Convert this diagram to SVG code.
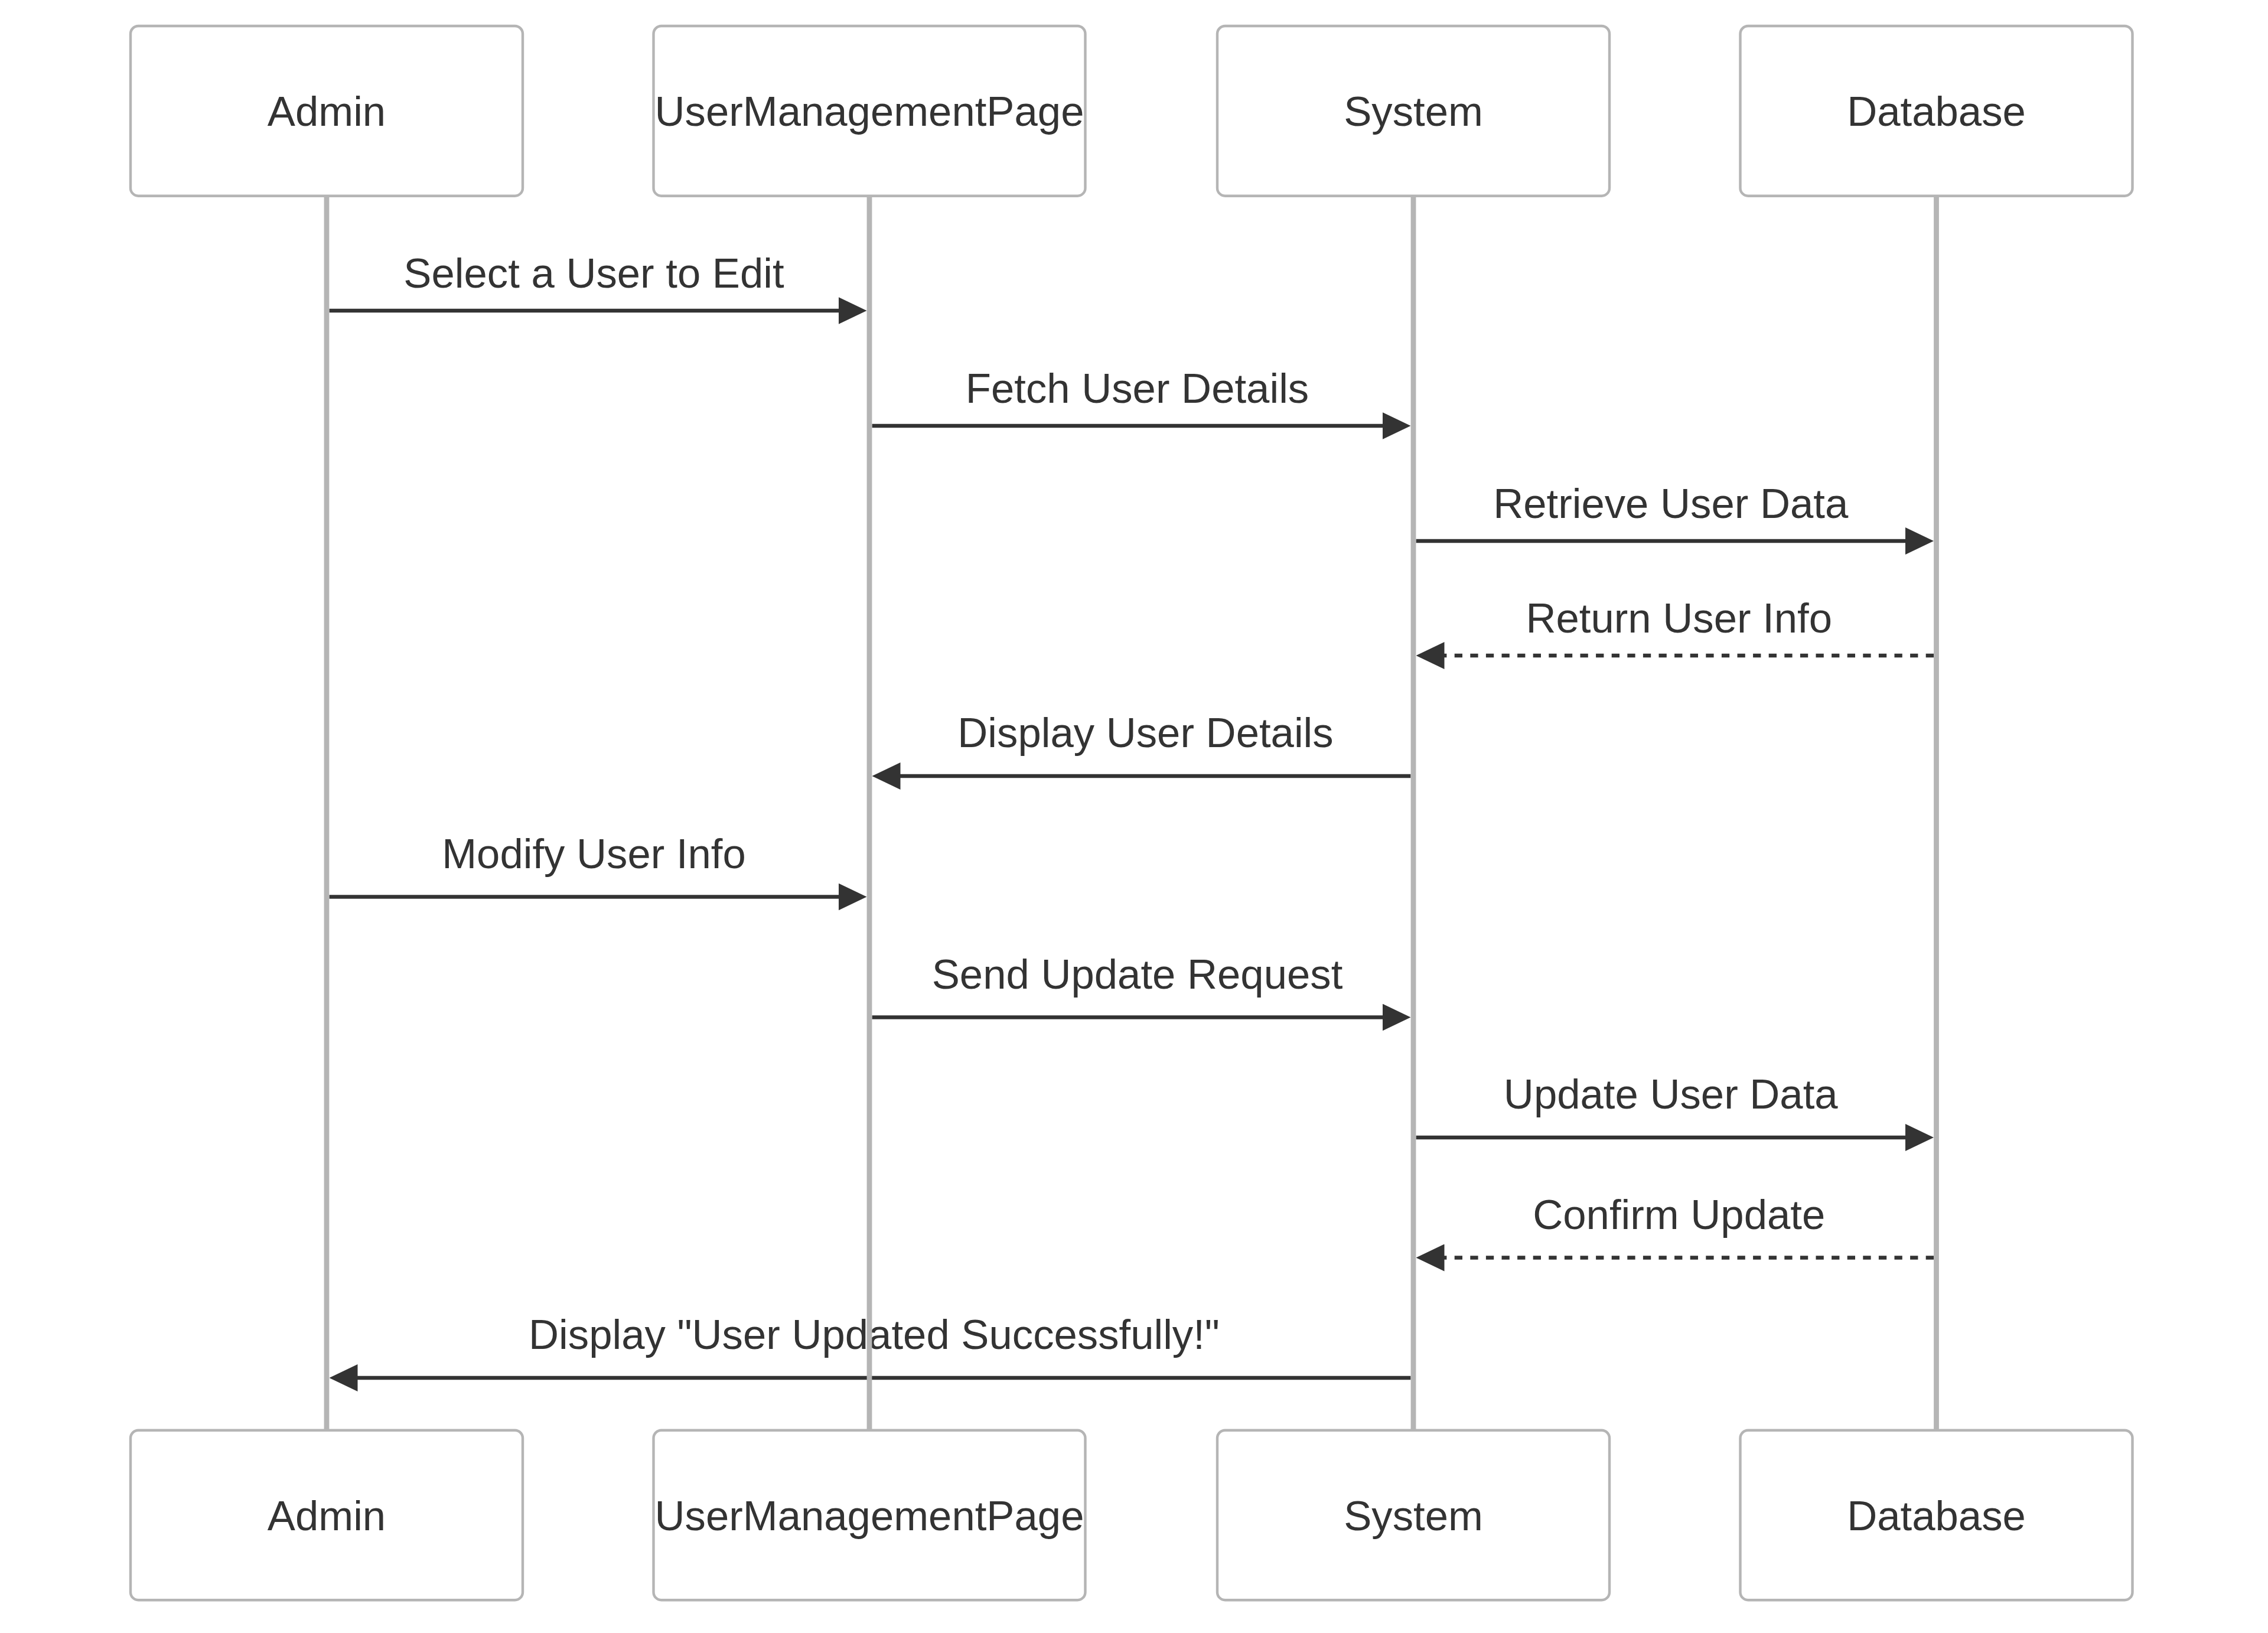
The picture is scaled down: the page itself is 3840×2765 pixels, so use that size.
<svg xmlns="http://www.w3.org/2000/svg" width="3840" height="2765" viewBox="0 0 3840 2765">
<style>
.box{fill:#ffffff;stroke:#b5b5b5;stroke-width:4.4}
.life{stroke:#b5b5b5;stroke-width:8.8}
.atxt{font-family:"Liberation Sans",Arial,sans-serif;font-size:70.7px;fill:#333333;text-anchor:middle}
.mtxt{font-family:"Liberation Sans",Arial,sans-serif;font-size:70.7px;fill:#333333;text-anchor:middle}
.msg{stroke:#333333;stroke-width:6.6;fill:none;marker-end:url(#arrow)}
.dash{stroke-dasharray:13.3 13.3}
</style>
<defs>
<marker id="arrow" markerUnits="userSpaceOnUse" markerWidth="48" markerHeight="46" viewBox="0 0 48 46" refX="38" refY="23" orient="auto">
<path d="M0,0 L48,23 L0,46 z" fill="#333333" stroke="none"/>
</marker>
</defs>
<rect width="3840" height="2765" fill="#ffffff"/>
<g id="connectors">
<line class="msg" x1="557.5" y1="526" x2="1457.5" y2="526"/>
<text class="mtxt" x="1005.5" y="487">Select a User to Edit</text>
<line class="msg" x1="1476.5" y1="721" x2="2378.5" y2="721"/>
<text class="mtxt" x="1925.5" y="682">Fetch User Details</text>
<line class="msg" x1="2397.5" y1="916" x2="3264" y2="916"/>
<text class="mtxt" x="2828.75" y="877">Retrieve User Data</text>
<line class="msg dash" x1="3274" y1="1110" x2="2407.5" y2="1110"/>
<text class="mtxt" x="2842.75" y="1071">Return User Info</text>
<line class="msg" x1="2388.5" y1="1314" x2="1486.5" y2="1314"/>
<text class="mtxt" x="1939.5" y="1265">Display User Details</text>
<line class="msg" x1="557.5" y1="1518.5" x2="1457.5" y2="1518.5"/>
<text class="mtxt" x="1005.5" y="1469.5">Modify User Info</text>
<line class="msg" x1="1476.5" y1="1722.5" x2="2378.5" y2="1722.5"/>
<text class="mtxt" x="1925.5" y="1673.5">Send Update Request</text>
<line class="msg" x1="2397.5" y1="1926" x2="3264" y2="1926"/>
<text class="mtxt" x="2828.75" y="1877">Update User Data</text>
<line class="msg dash" x1="3274" y1="2129.5" x2="2407.5" y2="2129.5"/>
<text class="mtxt" x="2842.75" y="2080.5">Confirm Update</text>
<line class="msg" x1="2388.5" y1="2333" x2="567.5" y2="2333"/>
<text class="mtxt" x="1480" y="2284">Display "User Updated Successfully!"</text>
</g>
<g id="admin">
<rect class="box" x="221" y="44" width="664" height="287.7" rx="13.3"/>
<text class="atxt" x="553" y="213">Admin</text>
<line class="life" x1="553" y1="331.8" x2="553" y2="2421.7"/>
<rect class="box" x="221" y="2421.7" width="664" height="287.5" rx="13.3"/>
<text class="atxt" x="553" y="2591">Admin</text>
</g>
<g id="usermanagementpage">
<rect class="box" x="1106.5" y="44" width="731" height="287.7" rx="13.3"/>
<text class="atxt" x="1472" y="213">UserManagementPage</text>
<line class="life" x1="1472" y1="331.8" x2="1472" y2="2421.7"/>
<rect class="box" x="1106.5" y="2421.7" width="731" height="287.5" rx="13.3"/>
<text class="atxt" x="1472" y="2591">UserManagementPage</text>
</g>
<g id="system">
<rect class="box" x="2061" y="44" width="664" height="287.7" rx="13.3"/>
<text class="atxt" x="2393" y="213">System</text>
<line class="life" x1="2393" y1="331.8" x2="2393" y2="2421.7"/>
<rect class="box" x="2061" y="2421.7" width="664" height="287.5" rx="13.3"/>
<text class="atxt" x="2393" y="2591">System</text>
</g>
<g id="database">
<rect class="box" x="2946.5" y="44" width="664" height="287.7" rx="13.3"/>
<text class="atxt" x="3278.5" y="213">Database</text>
<line class="life" x1="3278.5" y1="331.8" x2="3278.5" y2="2421.7"/>
<rect class="box" x="2946.5" y="2421.7" width="664" height="287.5" rx="13.3"/>
<text class="atxt" x="3278.5" y="2591">Database</text>
</g>
</svg>
